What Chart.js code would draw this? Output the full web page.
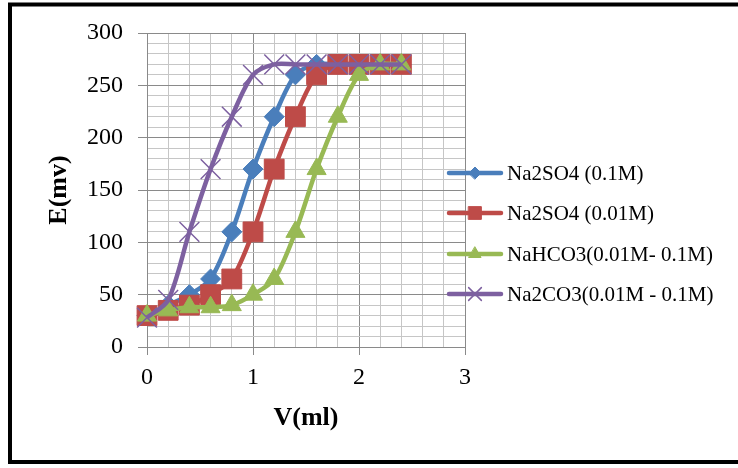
<!DOCTYPE html>
<html><head><meta charset="utf-8">
<style>html,body{margin:0;padding:0;background:#fff;}#wrap{width:738px;height:468px;}</style>
<script src="https://cdn.jsdelivr.net/npm/chart.js@4.4.0/dist/chart.umd.min.js"></script>
</head><body><div id="wrap"><canvas id="c" width="738" height="468"></canvas></div>
<script>
const volumes = [0, 0.2, 0.4, 0.6, 0.8, 1.0, 1.2, 1.4, 1.6, 1.8, 2.0, 2.2, 2.4];
const seriesNames = ['Na2SO4 (0.1M)', 'Na2SO4 (0.01M)', 'NaHCO3(0.01M- 0.1M)', 'Na2CO3(0.01M - 0.1M)'];
const na2so4_01M = [30, 40, 50, 65, 110, 170, 220, 260, 270, 270, 270, 270, 270];
const na2so4_001M = [30, 35, 40, 50, 65, 110, 170, 220, 260, 270, 270, 270, 270];
const nahco3 = [30, 35, 38, 38, 40, 50, 65, 110, 170, 220, 260, 270, 270];
const na2co3 = [28, 45, 110, 170, 220, 260, 270, 270, 270, 270, 270, 270, 270];
const xTickLabels = [0, 1, 2, 3];
const yTickLabels = [0, 50, 100, 150, 200, 250, 300];

const FONT = "'Liberation Serif', 'Times New Roman', serif";
const MAJOR = '#8a8a8a', MINOR = '#c6c6c6';
const colors = ['#4A7EBB', '#BE4B48', '#98B954', '#7D60A0'];
const styles = [
  {pointStyle: 'rectRot', radius: 10, legendRadius: 6},
  {pointStyle: 'rect', radius: 14, legendRadius: 9},
  {pointStyle: 'triangle', radius: 11, legendRadius: 7},
  {pointStyle: 'crossRot', radius: 14, legendRadius: 9}
];
const seriesValues = [na2so4_01M, na2so4_001M, nahco3, na2co3];

const isIn = (v, arr) => arr.some(a => Math.abs(a - v) < 1e-6);

const datasets = seriesValues.map((vals, i) => ({
  label: seriesNames[i],
  data: vals.map((y, k) => ({x: volumes[k], y})),
  borderColor: colors[i],
  backgroundColor: colors[i],
  pointBackgroundColor: colors[i],
  pointBorderColor: colors[i],
  pointBorderWidth: i === 3 ? 1.5 : 1,
  borderWidth: 4.5,
  tension: 0.3,
  pointStyle: styles[i].pointStyle,
  pointRadius: styles[i].radius,
  clip: false,
  order: 4 - i
}));

const framePlugin = {
  id: 'frame',
  beforeDraw(chart) {
    const ctx = chart.ctx;
    ctx.save(); ctx.fillStyle = '#fff'; ctx.fillRect(0, 0, chart.width, chart.height); ctx.restore();
  },
  afterDraw(chart) {
    const ctx = chart.ctx;
    ctx.save();
    ctx.strokeStyle = '#000'; ctx.lineWidth = 4;
    ctx.strokeRect(10, 4.5, 740, 457.5);
    ctx.restore();
  }
};

const legendPlugin = {
  id: 'customLegend',
  afterDraw(chart) {
    const ctx = chart.ctx;
    const ys = [173, 213, 254, 294];
    ctx.save();
    chart.data.datasets.forEach((ds, i) => {
      const y = ys[i];
      ctx.strokeStyle = colors[i];
      ctx.lineWidth = 4.5;
      ctx.lineCap = 'round';
      ctx.beginPath(); ctx.moveTo(449, y); ctx.lineTo(501, y); ctx.stroke();
      ctx.fillStyle = colors[i];
      ctx.strokeStyle = colors[i];
      ctx.lineWidth = i === 3 ? 1.5 : 1;
      Chart.helpers.drawPoint(ctx, {pointStyle: styles[i].pointStyle, radius: styles[i].legendRadius, rotation: 0, borderWidth: ctx.lineWidth}, 475, y);
      ctx.fillStyle = '#000';
      ctx.font = '21px ' + FONT;
      ctx.textBaseline = 'middle';
      ctx.textAlign = 'left';
      ctx.fillText(ds.label, 507, y + 1);
    });
    ctx.restore();
  }
};

new Chart(document.getElementById('c'), {
  type: 'line',
  data: {datasets},
  options: {
    responsive: false,
    animation: false,
    devicePixelRatio: 1,
    layout: {padding: {top: 33, right: 273, left: 0, bottom: 0}},
    plugins: {legend: {display: false}, tooltip: {enabled: false}},
    scales: {
      x: {
        type: 'linear', min: 0, max: 3,
        afterFit: s => { s.height = 121; },
        ticks: {
          stepSize: 0.2, autoSkip: false, maxRotation: 0, padding: 8,
          color: '#000', font: {family: FONT, size: 24},
          callback: v => isIn(v, xTickLabels) ? String(Math.round(v)) : ''
        },
        grid: {
          color: c => (c.tick && isIn(c.tick.value, xTickLabels)) ? MAJOR : MINOR,
          tickColor: c => (c.tick && isIn(c.tick.value, xTickLabels)) ? MAJOR : 'rgba(0,0,0,0)',
          tickLength: 8, lineWidth: 1
        },
        border: {color: MAJOR, width: 1},
        title: {display: true, text: 'V(ml)', color: '#000', font: {family: FONT, size: 26, weight: 'bold'}, padding: {top: 0, bottom: 34}}
      },
      y: {
        type: 'linear', min: 0, max: 300,
        afterFit: s => { s.width = 147; },
        ticks: {
          stepSize: 10, autoSkip: false, padding: 15,
          color: '#000', font: {family: FONT, size: 24},
          callback: v => isIn(v, yTickLabels) ? String(Math.round(v)) : ''
        },
        grid: {
          color: c => (c.tick && isIn(c.tick.value, yTickLabels)) ? MAJOR : MINOR,
          tickColor: c => (c.tick && isIn(c.tick.value, yTickLabels)) ? MAJOR : 'rgba(0,0,0,0)',
          tickLength: 9, lineWidth: 1
        },
        border: {color: MAJOR, width: 1},
        title: {display: true, text: 'E(mv)', color: '#000', font: {family: FONT, size: 26, weight: 'bold'}, padding: {top: 44, bottom: 0}}
      }
    }
  },
  plugins: [framePlugin, legendPlugin]
});
</script>
</body></html>
